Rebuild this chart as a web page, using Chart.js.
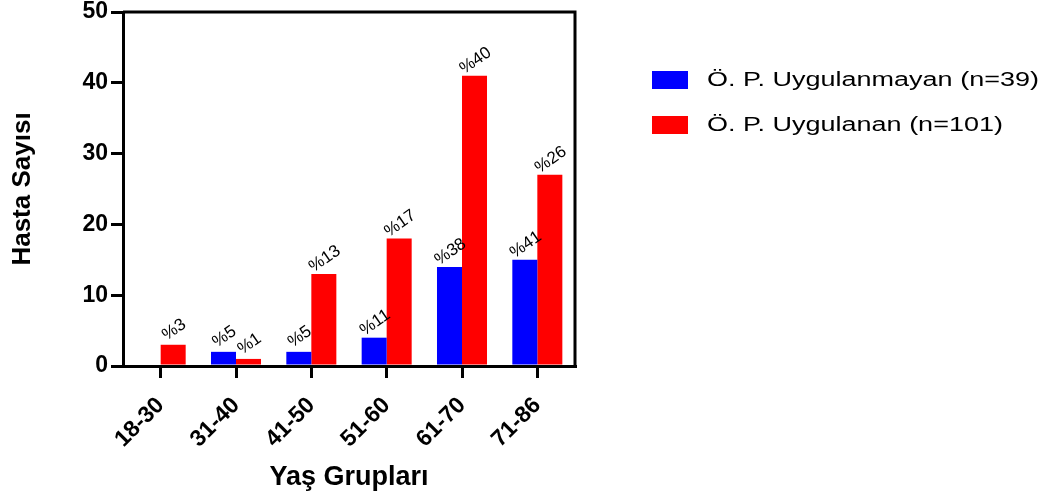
<!DOCTYPE html>
<html>
<head>
<meta charset="utf-8">
<script src="https://cdn.jsdelivr.net/npm/chart.js@4.4.0/dist/chart.umd.min.js"></script>
<style>
  html, body { margin: 0; padding: 0; background: #fff; }
</style>
</head>
<body>
<canvas id="chart" width="1060" height="500"></canvas>
<script>
const ageGroups = ['18-30', '31-40', '41-50', '51-60', '61-70', '71-86'];
const notApplied = [0, 2, 2, 4, 14, 15];
const applied = [3, 1, 13, 18, 41, 27];
const notAppliedPct = ['', '%5', '%5', '%11', '%38', '%41'];
const appliedPct = ['%3', '%1', '%13', '%17', '%40', '%26'];
const seriesNames = ['Ö. P. Uygulanmayan (n=39)', 'Ö. P. Uygulanan (n=101)'];
const seriesColors = ['#0000ff', '#ff0000'];
const yTicks = [0, 10, 20, 30, 40, 50];

const FONT = '"Liberation Sans", Arial, sans-serif';

// percentage labels over the bars, tilted
const pctLabels = {
    id: 'pctLabels',
    afterDatasetsDraw(chart) {
        const ctx = chart.ctx;
        const texts = [notAppliedPct, appliedPct];
        chart.data.datasets.forEach((ds, i) => {
            chart.getDatasetMeta(i).data.forEach((bar, j) => {
                const txt = texts[i][j];
                if (!txt) return;
                ctx.save();
                ctx.translate(bar.x + 1, bar.y - 15);
                ctx.rotate(-35 * Math.PI / 180);
                ctx.font = '17px ' + FONT;
                ctx.fillStyle = '#000';
                ctx.textAlign = 'center';
                ctx.textBaseline = 'middle';
                ctx.fillText(txt, 0, 0);
                ctx.restore();
            });
        });
    }
};

// top + right side of the box
const frame = {
    id: 'frame',
    afterDraw(chart) {
        const { ctx, chartArea: { left, top, right, bottom } } = chart;
        ctx.save();
        ctx.strokeStyle = '#000';
        ctx.lineWidth = 3;
        ctx.beginPath();
        ctx.moveTo(left, top);
        ctx.lineTo(right, top);
        ctx.lineTo(right, bottom);
        ctx.stroke();
        ctx.restore();
    }
};

// legend on the right, text is a bit wide in the original
const sideLegend = {
    id: 'sideLegend',
    afterDraw(chart) {
        const ctx = chart.ctx;
        chart.data.datasets.forEach((ds, i) => {
            const cy = 80 + i * 45;
            ctx.save();
            ctx.fillStyle = ds.backgroundColor;
            ctx.fillRect(652, cy - 9, 36, 18);
            ctx.translate(707, cy);
            ctx.scale(1.35, 1);
            ctx.font = '20px ' + FONT;
            ctx.fillStyle = '#000';
            ctx.textAlign = 'left';
            ctx.textBaseline = 'middle';
            ctx.fillText(ds.label, 0, 0);
            ctx.restore();
        });
    }
};

new Chart(document.getElementById('chart').getContext('2d'), {
    type: 'bar',
    data: {
        labels: ageGroups,
        datasets: [
            { label: seriesNames[0], data: notApplied, backgroundColor: seriesColors[0] },
            { label: seriesNames[1], data: applied, backgroundColor: seriesColors[1] }
        ]
    },
    options: {
        responsive: false,
        animation: false,
        devicePixelRatio: 1,
        categoryPercentage: 0.664,
        barPercentage: 1,
        layout: { padding: { top: 12, right: 485, bottom: 0, left: 0 } },
        plugins: {
            legend: { display: false },
            tooltip: { enabled: false }
        },
        scales: {
            x: {
                offset: true,
                grid: { offset: false, drawOnChartArea: false, drawTicks: true, tickLength: 12, color: '#000', lineWidth: 3 },
                border: { display: true, color: '#000', width: 3 },
                ticks: {
                    color: '#000', autoSkip: false, minRotation: 45, maxRotation: 45, padding: 14,
                    font: { family: FONT, size: 23, weight: 'bold' }
                },
                title: {
                    display: true, text: 'Yaş Grupları', color: '#000',
                    font: { family: FONT, size: 27, weight: 'bold' },
                    padding: { top: 0, bottom: 6 }
                },
                afterFit(scale) {
                    scale.height = 134;
                    scale.paddingLeft = 0;
                    scale.paddingRight = 0;
                }
            },
            y: {
                min: 0,
                max: 50,
                afterBuildTicks(scale) {
                    scale.ticks = yTicks.map(v => ({ value: v }));
                },
                grid: { drawOnChartArea: false, drawTicks: true, tickLength: 12, color: '#000', lineWidth: 3 },
                border: { display: true, color: '#000', width: 3 },
                ticks: {
                    color: '#000', padding: 3,
                    font: { family: FONT, size: 23, weight: 'bold' }
                },
                title: {
                    display: true, text: 'Hasta Sayısı', color: '#000',
                    font: { family: FONT, size: 26, weight: 'bold' },
                    padding: { top: 7, bottom: 0 }
                },
                afterFit(scale) {
                    scale.width = 123;
                    scale.paddingTop = 0;
                    scale.paddingBottom = 0;
                }
            }
        }
    },
    plugins: [pctLabels, frame, sideLegend]
});
</script>
</body>
</html>
